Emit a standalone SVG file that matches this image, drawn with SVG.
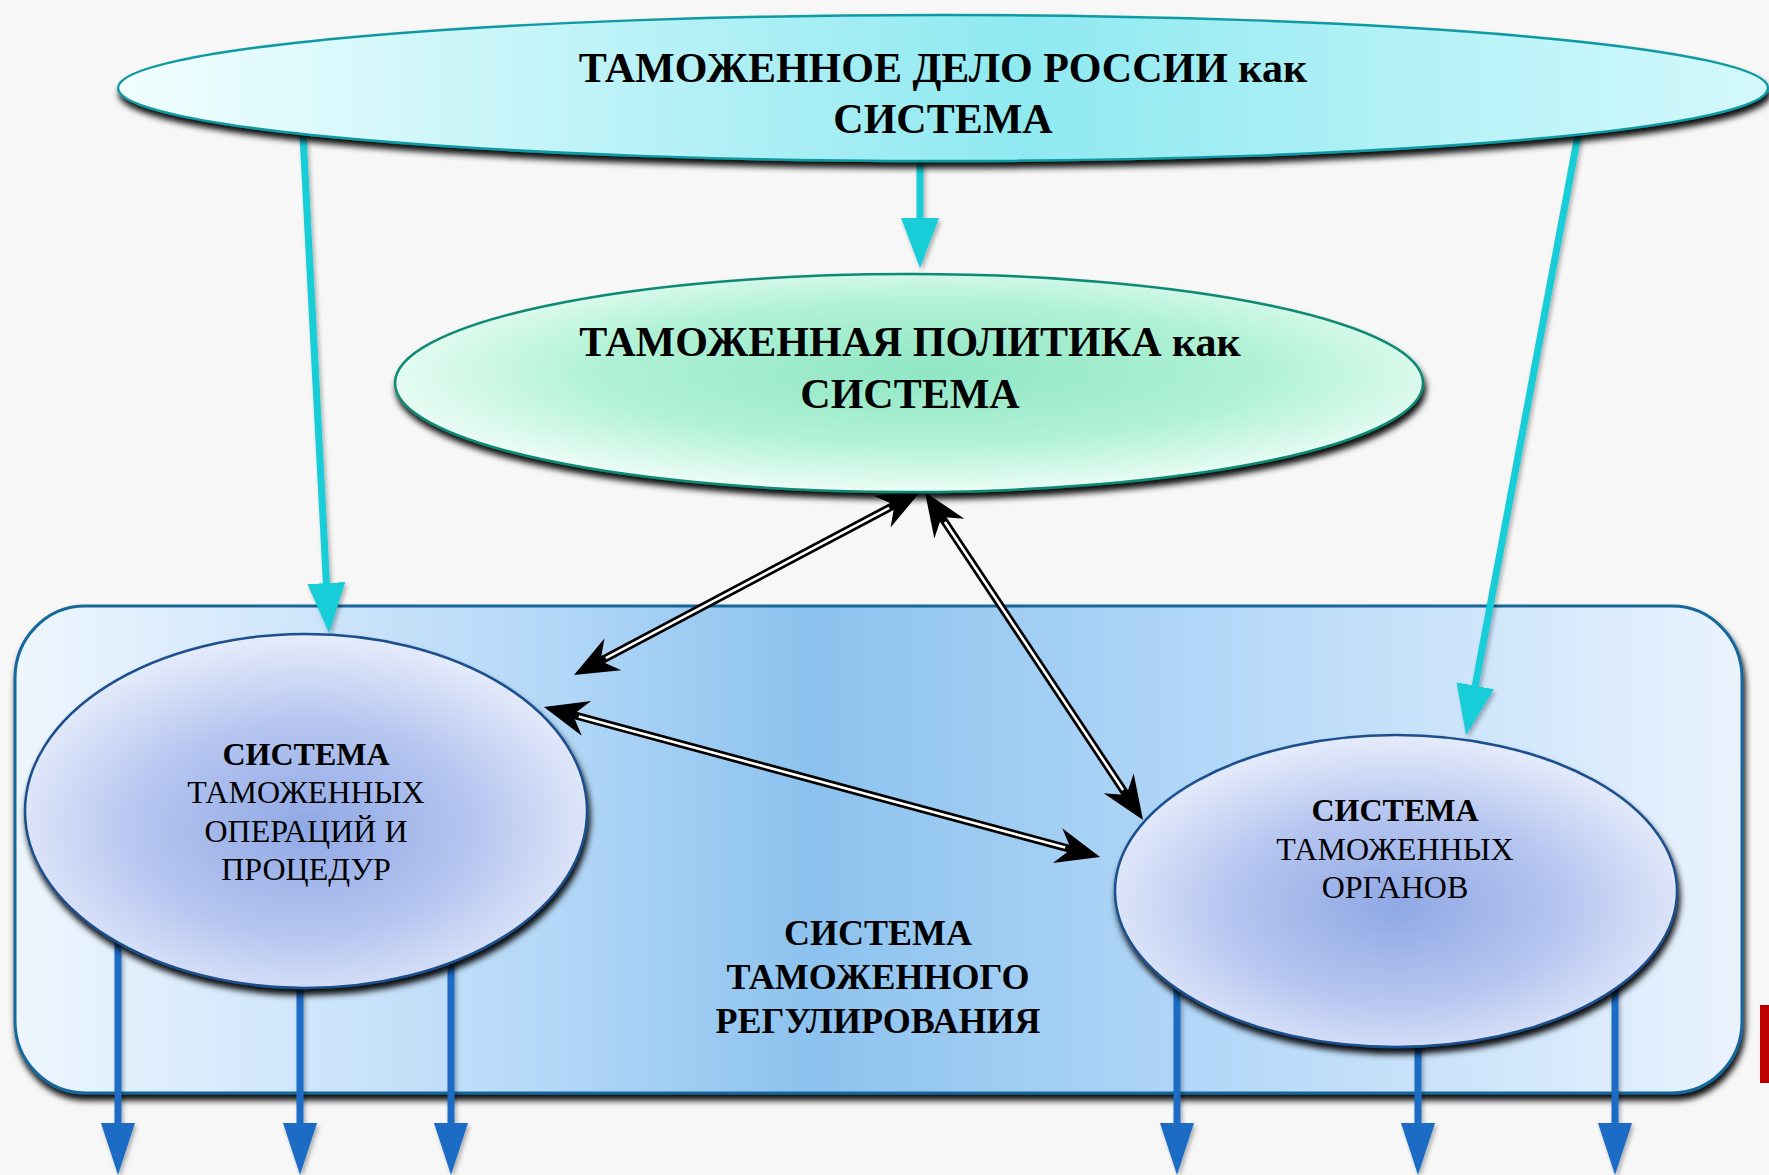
<svg xmlns="http://www.w3.org/2000/svg" width="1769" height="1175" viewBox="0 0 1769 1175">
<style>
  text { font-family: "Liberation Serif", "Times New Roman", serif; fill: #000; text-anchor: middle; }
  .big { font-size: 42px; font-weight: bold; }
  .mid { font-size: 36px; font-weight: bold; }
  .sb { font-size: 32px; font-weight: bold; }
  .sr { font-size: 32px; }
  .cyan { stroke: #14cdd8; stroke-width: 7; fill: none; marker-end: url(#cyanHead); }
  .blue { stroke: #1a6cc6; stroke-width: 7; fill: none; marker-end: url(#blueHead); }
  .dblo { stroke: #000; stroke-width: 8; fill: none; marker-start: url(#blackHead); marker-end: url(#blackHead); }
  .dbli { stroke: #fff; stroke-width: 2.6; fill: none; }
</style>
<defs>
  <filter id="shadow" x="-10%" y="-20%" width="120%" height="150%">
    <feDropShadow dx="2" dy="6" stdDeviation="3" flood-color="#000" flood-opacity="0.95"/>
  </filter>
  <filter id="soft" x="-50%" y="-50%" width="200%" height="200%">
    <feDropShadow dx="2" dy="3" stdDeviation="2" flood-color="#000" flood-opacity="0.3"/>
  </filter>
  <linearGradient id="gTop" x1="0" y1="0" x2="1" y2="0">
    <stop offset="0" stop-color="#f2feff"/>
    <stop offset="0.55" stop-color="#8fe9f1"/>
    <stop offset="1" stop-color="#d4f9fc"/>
  </linearGradient>
  <radialGradient id="gMid" cx="0.52" cy="0.45" r="0.55">
    <stop offset="0" stop-color="#8fe6c4"/>
    <stop offset="0.6" stop-color="#b2f2d7"/>
    <stop offset="1" stop-color="#ecfdf5"/>
  </radialGradient>
  <linearGradient id="gRect" x1="0" y1="0" x2="1" y2="0">
    <stop offset="0" stop-color="#eef6fe"/>
    <stop offset="0.3" stop-color="#b6d9f8"/>
    <stop offset="0.46" stop-color="#8cc2ee"/>
    <stop offset="0.7" stop-color="#b4d8f8"/>
    <stop offset="1" stop-color="#eaf3fe"/>
  </linearGradient>
  <radialGradient id="gSys" cx="0.5" cy="0.55" r="0.55">
    <stop offset="0" stop-color="#8fa8e4"/>
    <stop offset="0.55" stop-color="#b6c6f0"/>
    <stop offset="1" stop-color="#e6ecfb"/>
  </radialGradient>
  <marker id="cyanHead" markerUnits="userSpaceOnUse" viewBox="0 -20 52 40" refX="0" refY="0" markerWidth="52" markerHeight="40" orient="auto">
    <path d="M0,-19 L50,0 L0,19 Z" fill="#14cdd8"/>
  </marker>
  <marker id="blueHead" markerUnits="userSpaceOnUse" viewBox="0 -18 54 36" refX="0" refY="0" markerWidth="54" markerHeight="36" orient="auto">
    <path d="M0,-17 L52,0 L0,17 Z" fill="#1a6cc6"/>
  </marker>
  <marker id="blackHead" markerUnits="userSpaceOnUse" viewBox="-20 -19 46 38" refX="0" refY="0" markerWidth="46" markerHeight="38" orient="auto-start-reverse">
    <path d="M25,0 L-19,-18 L-5,0 L-19,18 Z" fill="#000"/>
  </marker>
</defs>

<rect x="0" y="0" width="1769" height="1175" fill="#f7f7f7"/>

<g id="regulation-system">
  <rect x="15" y="606" width="1727" height="487" rx="70" ry="72" fill="url(#gRect)" stroke="#14679a" stroke-width="3" filter="url(#shadow)"/>
  <text class="mid" x="878" y="945">СИСТЕМА</text>
  <text class="mid" x="878" y="989">ТАМОЖЕННОГО</text>
  <text class="mid" x="878" y="1033">РЕГУЛИРОВАНИЯ</text>
</g>

<g id="connectors">
  <g filter="url(#soft)">
    <path class="cyan" d="M920,150 L920,218"/>
    <path class="cyan" d="M303,135 L326.4,583.1"/>
    <path class="cyan" d="M1578,135 L1475.2,685.8"/>
    <path class="blue" d="M118,900 L118,1123"/>
    <path class="blue" d="M300,900 L300,1123"/>
    <path class="blue" d="M451,900 L451,1123"/>
    <path class="blue" d="M1177,950 L1177,1123"/>
    <path class="blue" d="M1418,950 L1418,1123"/>
    <path class="blue" d="M1615,950 L1615,1123"/>
  </g>
  <path class="dblo" d="M898.9,502.7 L596.1,663.3"/>
  <path class="dbli" d="M889.2,507.9 L605.8,658.1"/>
  <path class="dblo" d="M938.8,512.8 L1129.2,799.2"/>
  <path class="dbli" d="M944.9,522.0 L1123.1,790.0"/>
  <path class="dblo" d="M568.1,713.5 L1075.9,850.5"/>
  <path class="dbli" d="M578.8,716.4 L1065.2,847.6"/>
</g>

<g id="customs-russia">
  <ellipse cx="943" cy="88" rx="825" ry="73" fill="url(#gTop)" stroke="#0f9aa2" stroke-width="2.5" filter="url(#shadow)"/>
  <text class="big" x="943" y="82">ТАМОЖЕННОЕ ДЕЛО РОССИИ как</text>
  <text class="big" x="943" y="133">СИСТЕМА</text>
</g>

<g id="customs-policy">
  <ellipse cx="909" cy="383" rx="514" ry="109" fill="url(#gMid)" stroke="#0f8a74" stroke-width="2.5" filter="url(#shadow)"/>
  <text class="big" x="910" y="356">ТАМОЖЕННАЯ ПОЛИТИКА как</text>
  <text class="big" x="910" y="408">СИСТЕМА</text>
</g>

<g id="operations-system">
  <ellipse cx="306" cy="811" rx="281" ry="177" fill="url(#gSys)" stroke="#1a4f8c" stroke-width="2.5" filter="url(#shadow)"/>
  <text class="sb" x="306" y="765">СИСТЕМА</text>
  <text class="sr" x="306" y="803">ТАМОЖЕННЫХ</text>
  <text class="sr" x="306" y="842">ОПЕРАЦИЙ И</text>
  <text class="sr" x="306" y="880">ПРОЦЕДУР</text>
</g>

<g id="bodies-system">
  <ellipse cx="1396" cy="891" rx="281" ry="156" fill="url(#gSys)" stroke="#1a4f8c" stroke-width="2.5" filter="url(#shadow)"/>
  <text class="sb" x="1395" y="821">СИСТЕМА</text>
  <text class="sr" x="1395" y="860">ТАМОЖЕННЫХ</text>
  <text class="sr" x="1395" y="898">ОРГАНОВ</text>
</g>

<rect x="1760" y="1005" width="9" height="78" fill="#c00000"/>
</svg>
